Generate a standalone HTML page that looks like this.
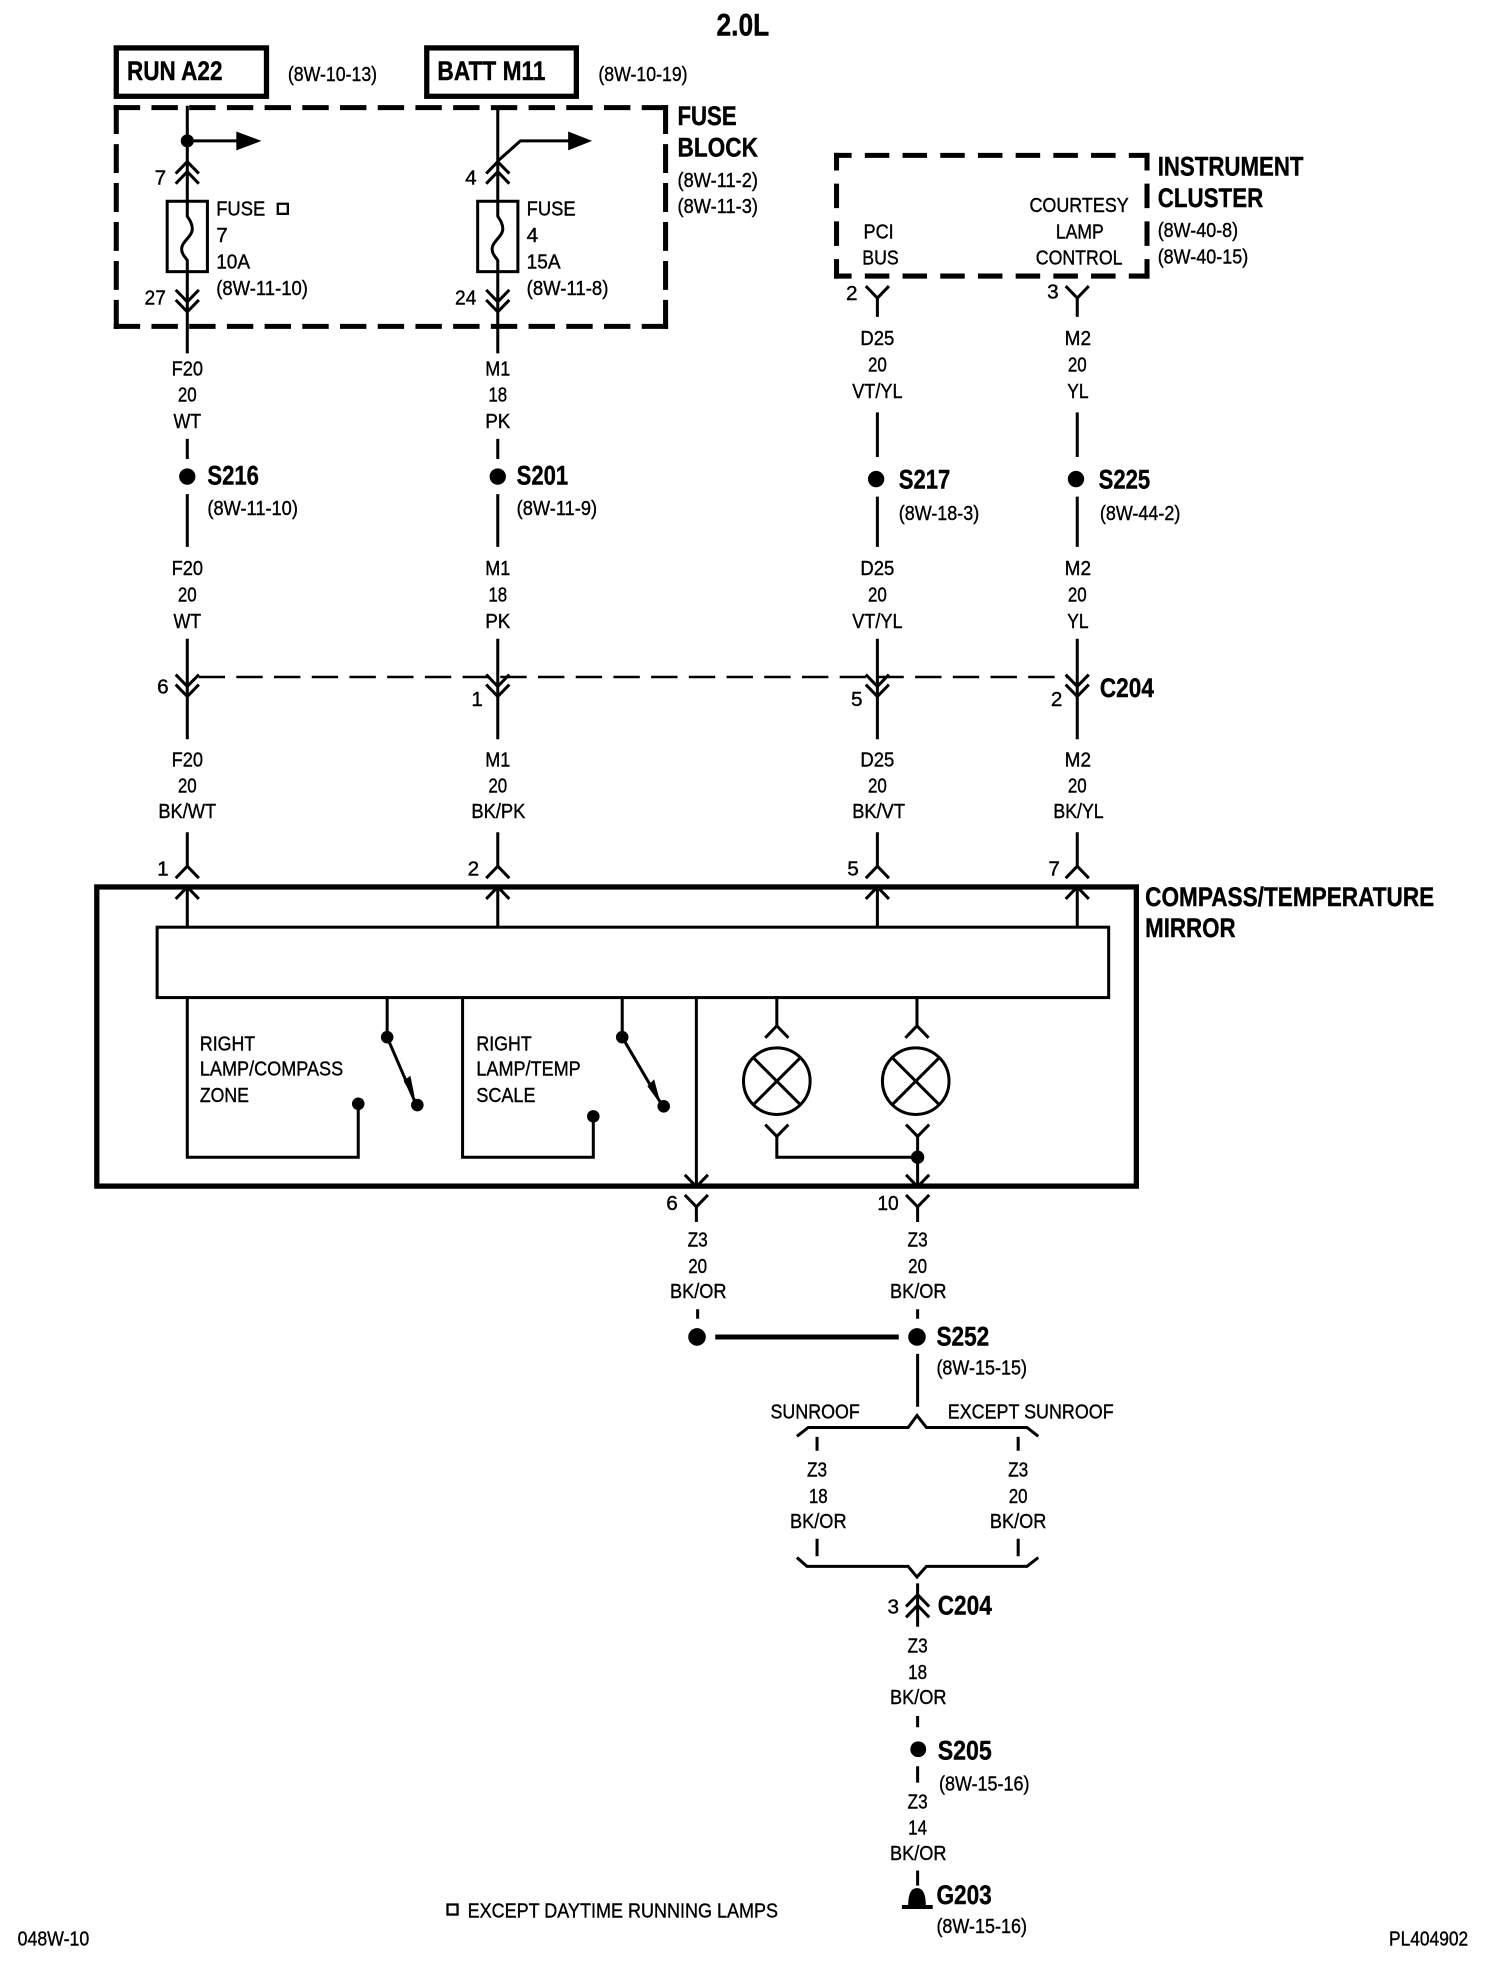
<!DOCTYPE html>
<html><head><meta charset="utf-8"><style>
html,body{margin:0;padding:0;background:#fff}
svg{display:block}
text{font-family:"Liberation Sans",sans-serif;fill:#000;transform:translateY(-.5px)}
.t{font-size:16.5px;stroke:#000;stroke-width:.3px}
.m{font-size:16.5px;text-anchor:middle;stroke:#000;stroke-width:.3px}
.b{font-size:21.5px;font-weight:bold;stroke:#000;stroke-width:.3px}
.w{fill:none;stroke:#000;stroke-width:2.4}
.k{fill:none;stroke:#000;stroke-width:4.2}
.dh{fill:none;stroke:#000;stroke-width:4;stroke-dasharray:21 9}
.dv{fill:none;stroke:#000;stroke-width:4;stroke-dasharray:23 8}
.ch{fill:none;stroke:#000;stroke-width:4;stroke-dasharray:19.5 10.5;stroke-dashoffset:5.5}
</style></head><body>
<svg xmlns="http://www.w3.org/2000/svg" width="1504" height="1970" viewBox="0 0 1196.5 1567">
<defs>
<path id="u" class="w" d="M-9.2 9.5L0 0L9.2 9.5"/>
<path id="v" class="w" d="M-9.2 -9.5L0 0L9.2 -9.5"/>
</defs>
<rect width="1196.5" height="1567" fill="#fff"/>

<text class="b" style="font-size:25px" x="570" y="28.5" textLength="42" lengthAdjust="spacingAndGlyphs">2.0L</text>
<rect class="k" x="92.5" y="38" width="119.5" height="38.5"/>
<rect class="k" x="339.5" y="38" width="119" height="38.5"/>
<text class="b" x="101" y="64" textLength="76" lengthAdjust="spacingAndGlyphs">RUN A22</text>
<text class="b" x="348" y="64" textLength="86" lengthAdjust="spacingAndGlyphs">BATT M11</text>
<text class="t" x="229" y="65" textLength="71" lengthAdjust="spacingAndGlyphs">(8W-10-13)</text>
<text class="t" x="476" y="65" textLength="71" lengthAdjust="spacingAndGlyphs">(8W-10-19)</text>

<!-- fuse block -->
<path class="dh" d="M90.5 85.5H531.5M90.5 259.5H531.5"/>
<path class="dv" d="M92.5 83.5V261.5M529.5 83.5V261.5"/>
<text class="b" x="539" y="100" textLength="47" lengthAdjust="spacingAndGlyphs">FUSE</text>
<text class="b" x="539" y="125" textLength="64" lengthAdjust="spacingAndGlyphs">BLOCK</text>
<text class="t" x="539" y="149" textLength="64" lengthAdjust="spacingAndGlyphs">(8W-11-2)</text>
<text class="t" x="539" y="170" textLength="64" lengthAdjust="spacingAndGlyphs">(8W-11-3)</text>

<!-- column A top -->
<path class="w" d="M149 84V160M149 216V281"/>
<circle cx="149" cy="112" r="5.2"/>
<path class="w" d="M149 112H190"/><path d="M188 104.500L208 112L188 119.500Z"/>
<use href="#u" x="149" y="128.500"/><use href="#u" x="149" y="136.500"/>
<rect class="w" x="133" y="160" width="32" height="56"/>
<path class="w" d="M149 160V172C151 175 153 178 153 182C153 188 144.500 192 144.500 198C144.500 202 147 204 149 207V216"/>
<use href="#v" x="149" y="240"/><use href="#v" x="149" y="248"/>
<text class="t" x="123" y="147">7</text>
<text class="t" x="115" y="242.500" textLength="17" lengthAdjust="spacingAndGlyphs">27</text>
<text class="t" x="172" y="172" textLength="39" lengthAdjust="spacingAndGlyphs">FUSE</text>
<rect x="221" y="162" width="8" height="8" fill="none" stroke="#000" stroke-width="1.800"/>
<text class="t" x="172" y="193">7</text>
<text class="t" x="172" y="214" textLength="27" lengthAdjust="spacingAndGlyphs">10A</text>
<text class="t" x="172" y="235" textLength="73" lengthAdjust="spacingAndGlyphs">(8W-11-10)</text>

<!-- column B top -->
<path class="w" d="M396 84V160M396 216V281"/>
<path class="w" d="M396 128L414 112H454"/><path d="M452 104.500L471 112L452 119.500Z"/>
<use href="#u" x="396" y="128.500"/><use href="#u" x="396" y="136.500"/>
<rect class="w" x="380" y="160" width="32" height="56"/>
<path class="w" d="M396 160V172C398 175 400 178 400 182C400 188 391.500 192 391.500 198C391.500 202 394 204 396 207V216"/>
<use href="#v" x="396" y="240"/><use href="#v" x="396" y="248"/>
<text class="t" x="370" y="147">4</text>
<text class="t" x="362" y="242.500" textLength="17" lengthAdjust="spacingAndGlyphs">24</text>
<text class="t" x="419" y="172" textLength="39" lengthAdjust="spacingAndGlyphs">FUSE</text>
<text class="t" x="419" y="193">4</text>
<text class="t" x="419" y="214" textLength="27" lengthAdjust="spacingAndGlyphs">15A</text>
<text class="t" x="419" y="235" textLength="65" lengthAdjust="spacingAndGlyphs">(8W-11-8)</text>

<!-- instrument cluster -->
<path class="ch" d="M663.500 123.500H914.500M663.500 219.500H914.500"/>
<path class="ch" d="M665.500 121.500V221.500M912.500 121.500V221.500"/>
<text class="b" x="921" y="140" textLength="116" lengthAdjust="spacingAndGlyphs">INSTRUMENT</text>
<text class="b" x="921" y="165" textLength="84" lengthAdjust="spacingAndGlyphs">CLUSTER</text>
<text class="t" x="921" y="189" textLength="64" lengthAdjust="spacingAndGlyphs">(8W-40-8)</text>
<text class="t" x="921" y="210" textLength="72" lengthAdjust="spacingAndGlyphs">(8W-40-15)</text>
<text class="m" x="858.500" y="169" textLength="79" lengthAdjust="spacingAndGlyphs">COURTESY</text>
<text class="m" x="859" y="190" textLength="38" lengthAdjust="spacingAndGlyphs">LAMP</text>
<text class="m" x="858.500" y="211" textLength="69" lengthAdjust="spacingAndGlyphs">CONTROL</text>
<text class="m" x="699" y="190" textLength="24" lengthAdjust="spacingAndGlyphs">PCI</text>
<text class="m" x="700.500" y="211" textLength="29" lengthAdjust="spacingAndGlyphs">BUS</text>
<use href="#v" x="698" y="237"/><use href="#v" x="857" y="237"/>
<path class="w" d="M698 237V252M857 237V252"/>
<text class="t" x="673" y="239">2</text>
<text class="t" x="833" y="238">3</text>

<!-- upper wire labels -->
<text class="m" x="149" y="299" textLength="25" lengthAdjust="spacingAndGlyphs">F20</text><text class="m" x="149" y="320" textLength="15" lengthAdjust="spacingAndGlyphs">20</text><text class="m" x="149" y="341" textLength="22" lengthAdjust="spacingAndGlyphs">WT</text>
<text class="m" x="396" y="299" textLength="20" lengthAdjust="spacingAndGlyphs">M1</text><text class="m" x="396" y="320" textLength="15" lengthAdjust="spacingAndGlyphs">18</text><text class="m" x="396" y="341" textLength="20" lengthAdjust="spacingAndGlyphs">PK</text>
<text class="m" x="698" y="275" textLength="27" lengthAdjust="spacingAndGlyphs">D25</text><text class="m" x="698" y="296" textLength="15" lengthAdjust="spacingAndGlyphs">20</text><text class="m" x="698" y="317" textLength="40" lengthAdjust="spacingAndGlyphs">VT/YL</text>
<text class="m" x="857.500" y="275" textLength="21" lengthAdjust="spacingAndGlyphs">M2</text><text class="m" x="857" y="296" textLength="15" lengthAdjust="spacingAndGlyphs">20</text><text class="m" x="857.500" y="317" textLength="17" lengthAdjust="spacingAndGlyphs">YL</text>

<path class="w" d="M149 349V365M396 349V365M698 328V363.500M857 328V363.500"/>
<circle cx="149" cy="379" r="6.500"/><circle cx="396" cy="379" r="6.500"/><circle cx="697" cy="381" r="6.500"/><circle cx="856" cy="381" r="6.500"/>
<path class="w" d="M149 393V435M396 393V435M698 395V435M857 395V435"/>
<text class="b" x="165" y="386" textLength="41" lengthAdjust="spacingAndGlyphs">S216</text><text class="t" x="165" y="410" textLength="72" lengthAdjust="spacingAndGlyphs">(8W-11-10)</text>
<text class="b" x="411" y="386" textLength="41" lengthAdjust="spacingAndGlyphs">S201</text><text class="t" x="411" y="410" textLength="64" lengthAdjust="spacingAndGlyphs">(8W-11-9)</text>
<text class="b" x="715" y="389" textLength="41" lengthAdjust="spacingAndGlyphs">S217</text><text class="t" x="715" y="414" textLength="64" lengthAdjust="spacingAndGlyphs">(8W-18-3)</text>
<text class="b" x="874" y="389" textLength="41" lengthAdjust="spacingAndGlyphs">S225</text><text class="t" x="875" y="414" textLength="64" lengthAdjust="spacingAndGlyphs">(8W-44-2)</text>

<text class="m" x="149" y="458" textLength="25" lengthAdjust="spacingAndGlyphs">F20</text><text class="m" x="149" y="479" textLength="15" lengthAdjust="spacingAndGlyphs">20</text><text class="m" x="149" y="500" textLength="22" lengthAdjust="spacingAndGlyphs">WT</text>
<text class="m" x="396" y="458" textLength="20" lengthAdjust="spacingAndGlyphs">M1</text><text class="m" x="396" y="479" textLength="15" lengthAdjust="spacingAndGlyphs">18</text><text class="m" x="396" y="500" textLength="20" lengthAdjust="spacingAndGlyphs">PK</text>
<text class="m" x="698" y="458" textLength="27" lengthAdjust="spacingAndGlyphs">D25</text><text class="m" x="698" y="479" textLength="15" lengthAdjust="spacingAndGlyphs">20</text><text class="m" x="698" y="500" textLength="40" lengthAdjust="spacingAndGlyphs">VT/YL</text>
<text class="m" x="857.500" y="458" textLength="21" lengthAdjust="spacingAndGlyphs">M2</text><text class="m" x="857" y="479" textLength="15" lengthAdjust="spacingAndGlyphs">20</text><text class="m" x="857.500" y="500" textLength="17" lengthAdjust="spacingAndGlyphs">YL</text>

<!-- C204 row -->
<path class="w" d="M149 508V588M396 508V588M698 508V588M857 508V588"/>
<path d="M158 538.500H849" fill="none" stroke="#000" stroke-width="2" stroke-dasharray="21 9"/>
<use href="#v" x="149" y="546"/><use href="#v" x="149" y="554"/>
<use href="#v" x="396" y="546"/><use href="#v" x="396" y="554"/>
<use href="#v" x="698" y="546"/><use href="#v" x="698" y="554"/>
<use href="#v" x="857" y="546"/><use href="#v" x="857" y="554"/>
<text class="t" x="125" y="552">6</text><text class="t" x="375" y="562">1</text><text class="t" x="677" y="562">5</text><text class="t" x="836" y="562">2</text>
<text class="b" x="875" y="555" textLength="43" lengthAdjust="spacingAndGlyphs">C204</text>

<text class="m" x="149" y="610" textLength="25" lengthAdjust="spacingAndGlyphs">F20</text><text class="m" x="149" y="631" textLength="15" lengthAdjust="spacingAndGlyphs">20</text><text class="m" x="149" y="651" textLength="46" lengthAdjust="spacingAndGlyphs">BK/WT</text>
<text class="m" x="396" y="610" textLength="20" lengthAdjust="spacingAndGlyphs">M1</text><text class="m" x="396" y="631" textLength="15" lengthAdjust="spacingAndGlyphs">20</text><text class="m" x="396.500" y="651" textLength="43" lengthAdjust="spacingAndGlyphs">BK/PK</text>
<text class="m" x="698" y="610" textLength="27" lengthAdjust="spacingAndGlyphs">D25</text><text class="m" x="698" y="631" textLength="15" lengthAdjust="spacingAndGlyphs">20</text><text class="m" x="699" y="651" textLength="42" lengthAdjust="spacingAndGlyphs">BK/VT</text>
<text class="m" x="857.500" y="610" textLength="21" lengthAdjust="spacingAndGlyphs">M2</text><text class="m" x="857" y="631" textLength="15" lengthAdjust="spacingAndGlyphs">20</text><text class="m" x="858" y="651" textLength="40" lengthAdjust="spacingAndGlyphs">BK/YL</text>

<path class="w" d="M149 662V689M396 662V689M698 662V689M857 662V689"/>
<use href="#u" x="149" y="689"/><use href="#u" x="396" y="689"/><use href="#u" x="698" y="689"/><use href="#u" x="857" y="689"/>
<text class="t" x="125" y="697">1</text><text class="t" x="372" y="697">2</text><text class="t" x="674" y="697">5</text><text class="t" x="834" y="697">7</text>

<!-- mirror -->
<rect class="k" x="77" y="705.500" width="827" height="238"/>
<text class="b" x="911" y="721" textLength="230" lengthAdjust="spacingAndGlyphs">COMPASS/TEMPERATURE</text>
<text class="b" x="911" y="746" textLength="72" lengthAdjust="spacingAndGlyphs">MIRROR</text>
<rect class="w" x="125" y="737.500" width="757" height="56"/>
<path class="w" d="M149 705V737M396 705V737M698 705V737M857 705V737"/>
<use href="#u" x="149" y="705.500"/><use href="#u" x="396" y="705.500"/><use href="#u" x="698" y="705.500"/><use href="#u" x="857" y="705.500"/>

<path class="w" d="M149 793V920.500H285V878"/>
<circle cx="285" cy="878" r="5"/>
<path class="w" d="M308 793V825L330 876"/>
<circle cx="308" cy="825" r="5"/><circle cx="332" cy="879" r="5"/>
<path d="M322 860L329 872L326 857Z" stroke="#000" stroke-width="1.500"/>
<text class="t" x="159" y="836" textLength="44" lengthAdjust="spacingAndGlyphs">RIGHT</text>
<text class="t" x="159" y="856" textLength="114" lengthAdjust="spacingAndGlyphs">LAMP/COMPASS</text>
<text class="t" x="159" y="877" textLength="39" lengthAdjust="spacingAndGlyphs">ZONE</text>

<path class="w" d="M368 793V920.500H472V888"/>
<circle cx="472" cy="888" r="5"/>
<path class="w" d="M495 793V825L526 878"/>
<circle cx="495" cy="825" r="5"/><circle cx="528" cy="880" r="5"/>
<path d="M516 864L524 875L520 860Z" stroke="#000" stroke-width="1.500"/>
<text class="t" x="379" y="836" textLength="44" lengthAdjust="spacingAndGlyphs">RIGHT</text>
<text class="t" x="379" y="856" textLength="83" lengthAdjust="spacingAndGlyphs">LAMP/TEMP</text>
<text class="t" x="379" y="877" textLength="47" lengthAdjust="spacingAndGlyphs">SCALE</text>

<path class="w" d="M554 793V944"/>
<use href="#v" x="554" y="944"/><use href="#v" x="554" y="960"/>
<path class="w" d="M554 960V972"/>

<path class="w" d="M618 793V816M729.500 793V816"/>
<use href="#u" x="618" y="816"/><use href="#u" x="729.500" y="816"/>
<circle class="w" cx="618" cy="860" r="26.500"/>
<circle class="w" cx="728.500" cy="860" r="26.500"/>
<path class="w" d="M599.300 841.300L636.700 878.700M636.700 841.300L599.300 878.700M709.800 841.300L747.200 878.700M747.200 841.300L709.800 878.700"/>
<use href="#v" x="618" y="904"/><use href="#v" x="730" y="904"/>
<path class="w" d="M618 904V920.500H730M730 904V944"/>
<circle cx="730" cy="920.500" r="5.300"/>
<use href="#v" x="730" y="944"/><use href="#v" x="730" y="960"/>
<path class="w" d="M730 960V972"/>
<text class="t" x="530" y="963">6</text><text class="t" x="698" y="963" textLength="17" lengthAdjust="spacingAndGlyphs">10</text>

<!-- ground side -->
<text class="m" x="555" y="992" textLength="16" lengthAdjust="spacingAndGlyphs">Z3</text><text class="m" x="555" y="1013" textLength="15" lengthAdjust="spacingAndGlyphs">20</text><text class="m" x="555.500" y="1033" textLength="45" lengthAdjust="spacingAndGlyphs">BK/OR</text>
<text class="m" x="730" y="992" textLength="16" lengthAdjust="spacingAndGlyphs">Z3</text><text class="m" x="730" y="1013" textLength="15" lengthAdjust="spacingAndGlyphs">20</text><text class="m" x="730.500" y="1033" textLength="45" lengthAdjust="spacingAndGlyphs">BK/OR</text>
<path class="w" d="M555 1041.500V1049M730 1041.500V1049M730 1077V1119"/>
<circle cx="554.500" cy="1063.500" r="7"/><circle cx="729.500" cy="1063.500" r="7"/>
<path d="M569 1063.500H715" fill="none" stroke="#000" stroke-width="4"/>
<text class="b" x="745" y="1071" textLength="42" lengthAdjust="spacingAndGlyphs">S252</text>
<text class="t" x="745" y="1094" textLength="72" lengthAdjust="spacingAndGlyphs">(8W-15-15)</text>

<text class="t" x="613" y="1129" textLength="71" lengthAdjust="spacingAndGlyphs">SUNROOF</text>
<text class="t" x="754" y="1129" textLength="132" lengthAdjust="spacingAndGlyphs">EXCEPT SUNROOF</text>
<path class="w" d="M634 1142.500L643 1135.500H722.500L729.500 1126L737 1135.500H817L826 1142.500"/>
<path class="w" d="M650 1143V1154M810 1143V1154"/>
<text class="m" x="650" y="1175" textLength="16" lengthAdjust="spacingAndGlyphs">Z3</text><text class="m" x="651" y="1196" textLength="15" lengthAdjust="spacingAndGlyphs">18</text><text class="m" x="651" y="1216" textLength="45" lengthAdjust="spacingAndGlyphs">BK/OR</text>
<text class="m" x="810" y="1175" textLength="16" lengthAdjust="spacingAndGlyphs">Z3</text><text class="m" x="810" y="1196" textLength="15" lengthAdjust="spacingAndGlyphs">20</text><text class="m" x="810" y="1216" textLength="45" lengthAdjust="spacingAndGlyphs">BK/OR</text>
<path class="w" d="M650 1224V1238M810 1224V1238"/>
<path class="w" d="M634 1239L642 1246H722.500L729.500 1254.500L737 1246H817L826 1239"/>

<path class="w" d="M730 1259.500V1294"/>
<use href="#u" x="730" y="1268.500"/><use href="#u" x="730" y="1277"/>
<text class="t" x="706" y="1284">3</text>
<text class="b" x="746" y="1285" textLength="43" lengthAdjust="spacingAndGlyphs">C204</text>
<text class="m" x="730" y="1315" textLength="16" lengthAdjust="spacingAndGlyphs">Z3</text><text class="m" x="730" y="1336" textLength="15" lengthAdjust="spacingAndGlyphs">18</text><text class="m" x="730.500" y="1356" textLength="45" lengthAdjust="spacingAndGlyphs">BK/OR</text>
<path class="w" d="M730 1365V1374M730 1405V1418M730 1488V1500"/>
<circle cx="730.500" cy="1391.500" r="6.300"/>
<text class="b" x="746" y="1400" textLength="43" lengthAdjust="spacingAndGlyphs">S205</text>
<text class="t" x="747" y="1425" textLength="72" lengthAdjust="spacingAndGlyphs">(8W-15-16)</text>
<text class="m" x="730" y="1439" textLength="16" lengthAdjust="spacingAndGlyphs">Z3</text><text class="m" x="730" y="1460" textLength="15" lengthAdjust="spacingAndGlyphs">14</text><text class="m" x="730.500" y="1480" textLength="45" lengthAdjust="spacingAndGlyphs">BK/OR</text>
<path d="M722.500 1516C722.500 1506 725 1502 729.500 1502C734 1502 736.500 1506 736.500 1516Z"/>
<path d="M717.500 1517H742" fill="none" stroke="#000" stroke-width="3.200"/>
<text class="b" x="745" y="1515" textLength="44" lengthAdjust="spacingAndGlyphs">G203</text>
<text class="t" x="745" y="1538" textLength="72" lengthAdjust="spacingAndGlyphs">(8W-15-16)</text>

<!-- footer -->
<rect x="356" y="1515" width="8" height="8" fill="none" stroke="#000" stroke-width="1.800"/>
<text class="t" x="372" y="1526" textLength="247" lengthAdjust="spacingAndGlyphs">EXCEPT DAYTIME RUNNING LAMPS</text>
<text class="t" x="14" y="1548" textLength="57" lengthAdjust="spacingAndGlyphs">048W-10</text>
<text class="t" x="1105" y="1548" textLength="63" lengthAdjust="spacingAndGlyphs">PL404902</text>
</svg>
</body></html>
